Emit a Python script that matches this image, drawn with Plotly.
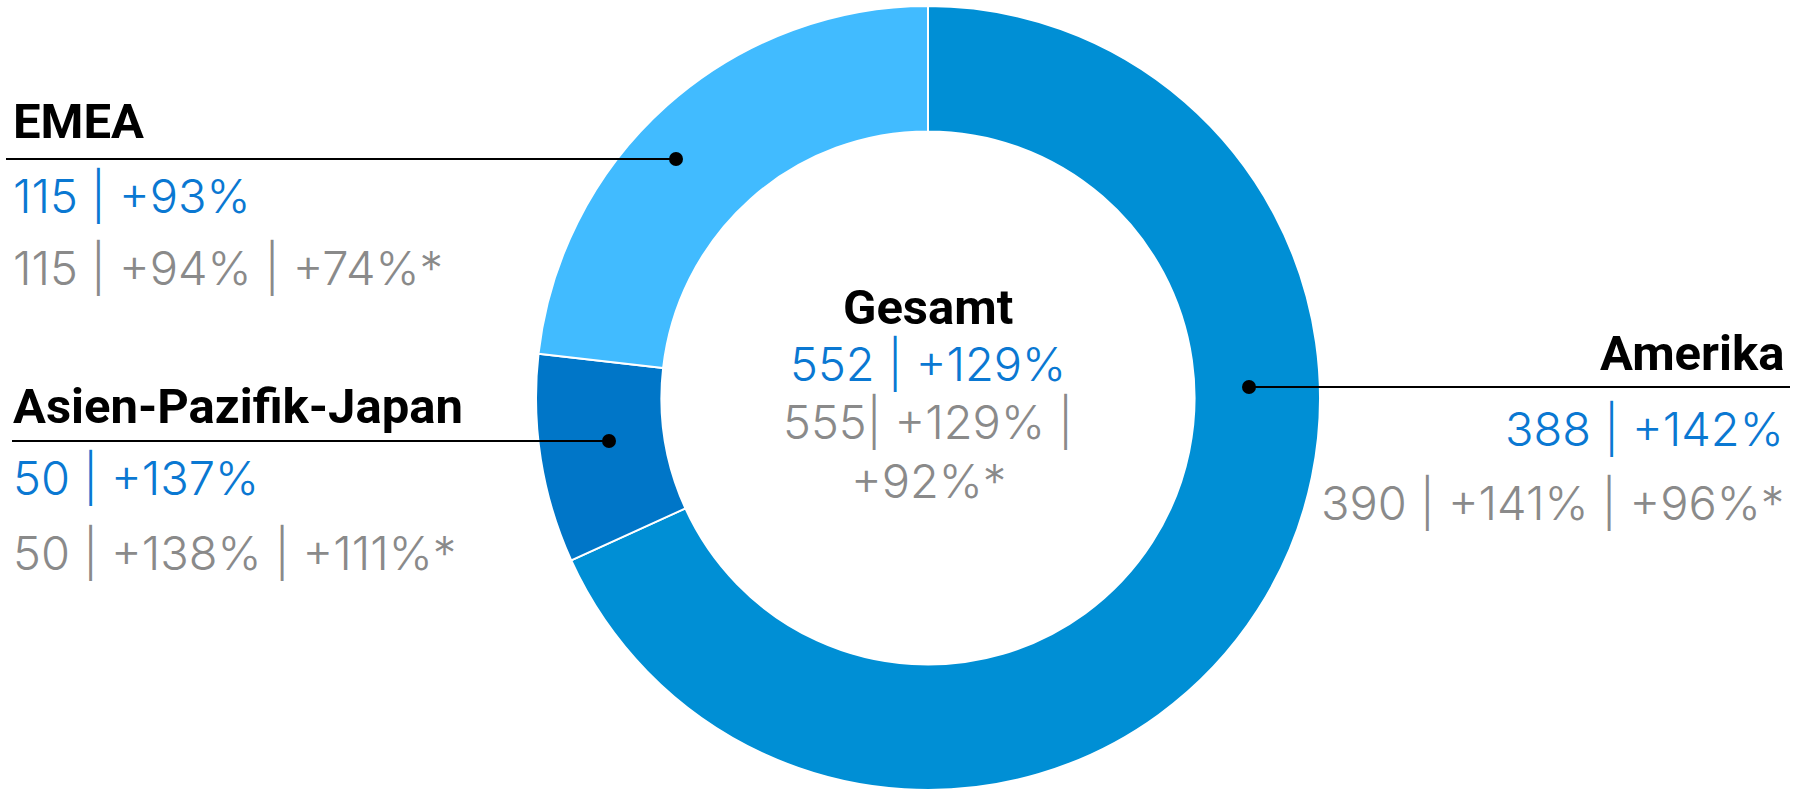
import plotly.graph_objects as go

W, H = 1794, 792

# slice shares (degrees of arc / 360)
regions = ["Amerika", "Asien-Pazifik-Japan", "EMEA"]
shares = [68.2, 8.6, 23.2]
colors = ["#008fd5", "#0076c8", "#41bbff"]

# label texts
blue_lines = ["388 | +142%", "50 | +137%", "115 | +93%"]
gray_lines = ["390 | +141% | +96%*", "50 | +138% | +111%*", "115 | +94% | +74%*"]
total_title = "Gesamt"
total_blue = "552 | +129%"
total_gray = ["555| +129% |", "+92%*"]

BLUE = "#0a78d2"
GRAY = "#8a8a8a"
TITLE_FONT = "Roboto"
VALUE_FONT = "Inter"
TSIZE = 49
VSIZE = 47

cx, cy, R = 928, 398, 392


def px(x):
    return x / W


def py(y):
    return 1 - y / H


fig = go.Figure(go.Pie(
    labels=regions,
    values=shares,
    marker=dict(colors=colors, line=dict(color="white", width=2)),
    hole=0.68,
    sort=False,
    direction="clockwise",
    rotation=0,
    textinfo="none",
    hoverinfo="label",
    domain=dict(x=[px(cx - R), px(cx + R)], y=[py(cy + R), py(cy - R)]),
    showlegend=False,
))

# label layout: title/blue/gray y, text x, anchor, leader line y and x-extent
layout_spec = {
    "EMEA": dict(ty=121, by=195, gy=267, x=11, anchor="left", ly=159, lx0=6, lx1=676),
    "Asien-Pazifik-Japan": dict(ty=407, by=478, gy=552, x=11, anchor="left", ly=441, lx0=12, lx1=609),
    "Amerika": dict(ty=353, by=429, gy=502, x=1786, anchor="right", ly=387, lx0=1249, lx1=1790),
}

annotations = []
shapes = []
for name, blue, gray in zip(regions, blue_lines, gray_lines):
    s = layout_spec[name]
    common = dict(xref="paper", yref="paper", x=px(s["x"]), xanchor=s["anchor"],
                  yanchor="middle", showarrow=False, align=s["anchor"])
    annotations.append(dict(text=name, y=py(s["ty"]),
                            font=dict(family=TITLE_FONT, size=TSIZE, color="black", weight=700), **common))
    annotations.append(dict(text=blue, y=py(s["by"]),
                            font=dict(family=VALUE_FONT, size=VSIZE, color=BLUE, weight=300), **common))
    annotations.append(dict(text=gray, y=py(s["gy"]),
                            font=dict(family=VALUE_FONT, size=VSIZE, color=GRAY, weight=300), **common))
    shapes.append(dict(type="line", xref="paper", yref="paper",
                       x0=px(s["lx0"]), x1=px(s["lx1"]), y0=py(s["ly"]), y1=py(s["ly"]),
                       line=dict(color="black", width=2)))
    d = 7
    dx = s["lx1"] if s["anchor"] == "left" else s["lx0"]
    shapes.append(dict(type="circle", xref="paper", yref="paper",
                       x0=px(dx - d), x1=px(dx + d), y0=py(s["ly"] + d), y1=py(s["ly"] - d),
                       fillcolor="black", line=dict(color="black", width=0)))

center = dict(xref="paper", yref="paper", x=px(cx), xanchor="center",
              yanchor="middle", showarrow=False)
annotations.append(dict(text=total_title, y=py(308),
                        font=dict(family=TITLE_FONT, size=TSIZE, color="black", weight=700), **center))
annotations.append(dict(text=total_blue, y=py(364),
                        font=dict(family=VALUE_FONT, size=VSIZE, color=BLUE, weight=300), **center))
for txt, yy in zip(total_gray, [421, 480]):
    annotations.append(dict(text=txt, y=py(yy),
                            font=dict(family=VALUE_FONT, size=VSIZE, color=GRAY, weight=300), **center))

fig.update_layout(
    width=W, height=H,
    margin=dict(l=0, r=0, t=0, b=0),
    paper_bgcolor="white",
    plot_bgcolor="white",
    annotations=annotations,
    shapes=shapes,
)

# drop the default body margin so the figure sits at the window corner
fig.write_html("out.html", config={"displayModeBar": False},
               post_script="document.body.style.margin='0';")
